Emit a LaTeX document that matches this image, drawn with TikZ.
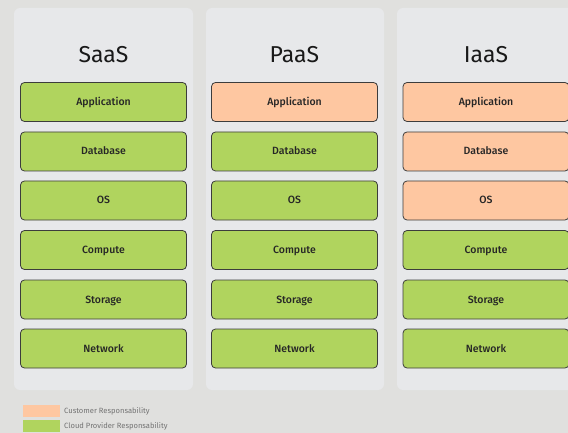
\documentclass[tikz,border=0pt]{standalone}
\usepackage{fontspec}
\setmainfont{Fira Sans}
\newfontfamily\medfont{Fira Sans Medium}
\begin{document}
\begin{tikzpicture}[x=1pt,y=-1pt,
  panel/.style={fill=panelgray, rounded corners=6pt},
  layer/.style={draw=boxline, line width=0.8pt, rounded corners=4pt, minimum width=166pt, minimum height=39pt, inner sep=0pt, text height=8pt, text depth=1pt, font=\fontsize{10.5}{12}\selectfont\medfont, text=black!85},
  cust/.style={layer, fill=custcol},
  prov/.style={layer, fill=provcol},
  title/.style={font=\fontsize{23}{26}\selectfont, text=black!90},
  legbox/.style={minimum width=37pt, minimum height=12pt, inner sep=0pt},
  legtext/.style={anchor=west, font=\fontsize{7.6}{9}\selectfont, text=black!55, inner sep=0pt}
]
\definecolor{bggray}{HTML}{E0E0DE}
\definecolor{panelgray}{HTML}{E7E8EA}
\definecolor{provcol}{HTML}{B0D45E}
\definecolor{custcol}{HTML}{FEC7A1}
\definecolor{boxline}{HTML}{3C3C3C}
\fill[bggray] (0,0) rectangle (568,433);
\useasboundingbox (0,0) rectangle (568,433);
\fill[panel] (14,8) rectangle (193,390);
\fill[panel] (206,8) rectangle (384,390);
\fill[panel] (397,8) rectangle (580,390);
\node[title] (t1) at (103.5,55) {SaaS};
\node[title] (t2) at (294.5,55) {PaaS};
\node[title] (t3) at (486,55) {IaaS};
% SaaS
\node[prov] (s1) at (103.5,102) {Application};
\node[prov] (s2) at (103.5,151.5) {Database};
\node[prov] (s3) at (103.5,200.5) {OS};
\node[prov] (s4) at (103.5,250) {Compute};
\node[prov] (s5) at (103.5,299.5) {Storage};
\node[prov] (s6) at (103.5,348.5) {Network};
% PaaS
\node[cust] (p1) at (294.5,102) {Application};
\node[prov] (p2) at (294.5,151.5) {Database};
\node[prov] (p3) at (294.5,200.5) {OS};
\node[prov] (p4) at (294.5,250) {Compute};
\node[prov] (p5) at (294.5,299.5) {Storage};
\node[prov] (p6) at (294.5,348.5) {Network};
% IaaS
\node[cust] (i1) at (486,102) {Application};
\node[cust] (i2) at (486,151.5) {Database};
\node[cust] (i3) at (486,200.5) {OS};
\node[prov] (i4) at (486,250) {Compute};
\node[prov] (i5) at (486,299.5) {Storage};
\node[prov] (i6) at (486,348.5) {Network};
% legend
\node[legbox, fill=custcol] (lc) at (41.5,411) {};
\node[legbox, fill=provcol] (lp) at (41.5,426) {};
\node[legtext] (lct) at (64,411) {Customer Responsability};
\node[legtext] (lpt) at (64,426) {Cloud Provider Responsability};
\end{tikzpicture}
\end{document}
